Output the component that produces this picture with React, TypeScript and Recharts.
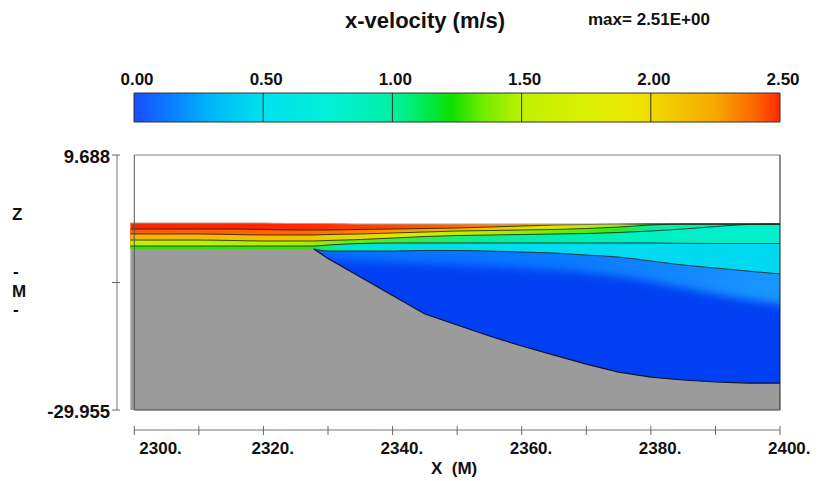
import React from 'react';
import {
  ComposedChart,
  Area,
  Line,
  XAxis,
  YAxis,
  ReferenceLine,
  ReferenceArea,
} from 'recharts';

const FONT = '"Liberation Sans", Arial, Helvetica, sans-serif';

// channel stations (m)
const stations = [
  2299.4, 2305, 2310, 2315, 2320, 2325, 2327.8, 2330, 2335, 2340, 2345,
  2350, 2355, 2360, 2365, 2370, 2375, 2380, 2385, 2390, 2395, 2400,
];

// free surface (m)
const surfaceZ = [
  -0.88, -0.88, -0.88, -0.88, -0.88, -0.96, -0.96, -0.96, -1.04, -1.04, -1.04,
  -1.04, -1.04, -1.04, -1.04, -1.04, -1.04, -1.04, -1.04, -1.04, -1.04, -1.04,
];

// velocity contours, top to bottom (m)
const contour1 = [
  -1.82, -1.82, -1.82, -1.82, -1.89, -1.97, -1.97, -1.97, -1.89, -1.82, -1.74,
  -1.66, -1.51, -1.35, -1.19, -1.12, -1.04, -1.04, -1.04, -1.04, -1.04, -1.04,
];
const contour2 = [
  -2.59, -2.59, -2.59, -2.67, -2.75, -2.75, -2.75, -2.67, -2.59, -2.44, -2.28,
  -2.13, -2.05, -1.97, -1.89, -1.74, -1.51, -1.19, -1.04, -1.04, -1.04, -1.04,
];
const contour3 = [
  -3.53, -3.53, -3.53, -3.6, -3.68, -3.68, -3.68, -3.6, -3.45, -3.22, -2.98,
  -2.83, -2.75, -2.67, -2.59, -2.52, -2.36, -2.13, -1.82, -1.43, -1.12, -1.04,
];
const contour4 = [
  -4.46, -4.46, -4.46, -4.46, -4.46, -4.46, -4.46, -4.3, -4.07, -3.99, -3.99,
  -3.99, -3.99, -3.99, -3.99, -3.99, -3.99, -3.99, -4.04, -4.07, -4.07, -4.07,
];
const contour5 = [
  -4.93, -4.93, -4.93, -4.93, -4.93, -4.93, -4.93, -5.24, -5.24, -5.24, -5.16,
  -5.16, -5.24, -5.39, -5.55, -5.86, -6.17, -6.79, -7.41, -7.88, -8.35, -8.81,
];
// top of the slow core (below the crest it sits inside the weir)
const coreZ = [
  null, null, null, null, null, null, -5.6, -6.4, -6.8, -7.0, -7.2,
  -7.4, -7.6, -7.9, -8.2, -8.6, -9.2, -10.0, -11.0, -12.0, -12.8, -13.5,
];
// spillway / bed profile (m)
const bedZ = [
  -4.93, -4.93, -4.93, -4.93, -4.93, -4.93, -4.93, -6.4, -9.28, -12.14, -15.03,
  -16.74, -18.45, -20.01, -21.41, -22.81, -24.05, -24.83, -25.29, -25.6, -25.76, -25.76,
];

const crestEdge = 2327.8;
const zTop = 9.688;
const zBottom = -29.955;
const zMid = (zTop + zBottom) / 2;
const xAxisMin = 2297.32;
const zAxisMin = -33.06;
const waterBase = -28;

const xTicks = [2300, 2310, 2320, 2330, 2340, 2350, 2360, 2370, 2380, 2390, 2400];
const zTicks = [zTop, zMid, zBottom];
const zTickLabels = ['9.688', '', '-29.955'];

// colour scale
const scaleTicks = [0, 0.5, 1.0, 1.5, 2.0, 2.5];
const scaleMax = 2.5;
const scaleStopValues = [0, 0.15, 0.3, 0.45, 0.5, 0.75, 0.95, 1.05, 1.15, 1.23, 1.35, 1.5, 1.75, 1.95, 2.05, 2.25, 2.4, 2.5];
const scaleStopColors = [
  '#1a4cff', '#0a80ff', '#00b8f8', '#00d8f0', '#00e0ee', '#00f0d8', '#00f0b0', '#00f088', '#00e840',
  '#10e000', '#70ec00', '#c0f000', '#dcf000', '#eee400', '#f2d000', '#f8a800', '#fc6800', '#ff2a00',
];
const scaleRows = [
  { v: 0, h: 1 },
  { v: scaleMax, h: 1 },
];

const onSlope = (x: number) => x >= crestEdge;

const rows = stations.map((x, i) => ({
  x,
  surface: surfaceZ[i],
  c1: contour1[i],
  c2: contour2[i],
  c3: contour3[i],
  c4: contour4[i],
  c5line: onSlope(x) ? contour5[i] : null,
  // filled bands reach down to the bed (hidden parts are painted over)
  b0: [bedZ[i], surfaceZ[i]],
  b1: [bedZ[i], contour1[i]],
  b2: [bedZ[i], contour2[i]],
  b3: [bedZ[i], contour3[i]],
  b4: [bedZ[i], contour4[i]],
  b5: onSlope(x) ? [waterBase, contour5[i]] : null,
  core: coreZ[i] === null ? null : [waterBase, coreZ[i]],
  bed: bedZ[i],
  bedEdge: onSlope(x) ? bedZ[i] : null,
}));

// horizontal fills of each velocity band
const bandFills: [number, string][][] = [
  [[0, '#ff2400'], [0.26, '#ff2800'], [0.42, '#ff4a00'], [0.54, '#ff7800'], [0.66, '#f8a800'], [0.75, '#e8d000'], [1, '#e8d000']],
  [[0, '#ff5c00'], [0.26, '#ff6400'], [0.42, '#ff9a00'], [0.54, '#f6c000'], [0.66, '#d8e800'], [0.75, '#a0f000'], [1, '#60f000']],
  [[0, '#f7b400'], [0.26, '#f2c400'], [0.35, '#ecd800'], [0.42, '#d8ec00'], [0.54, '#b0f000'], [0.66, '#70ec00'], [0.75, '#30e820'], [0.8, '#00f0a0'], [1, '#00f0c0']],
  [[0, '#c4f000'], [0.26, '#a8f000'], [0.33, '#70ec10'], [0.42, '#40ea40'], [0.54, '#10ec90'], [0.66, '#00f0b0'], [0.8, '#00f0c4'], [1, '#00f0d0']],
  [[0, '#38e000'], [0.27, '#38e000'], [0.3, '#20e870'], [0.33, '#00e8c8'], [0.45, '#00e0e8'], [0.7, '#00dcf0'], [1, '#00d8f0']],
  [[0, '#0a70ff'], [0.5, '#0a78ff'], [0.8, '#1488ff'], [1, '#1a98ff']],
];
const bandKeys = ['b0', 'b1', 'b2', 'b3', 'b4', 'b5'];

const XTick = (props: any) => {
  const { x, y, payload } = props;
  const v = payload.value as number;
  const major = v % 20 === 0;
  return (
    <g>
      <line x1={x} x2={x} y1={y - 4} y2={y + 5} stroke="#666" />
      {major && (
        <text x={v === xTicks[0] ? x + 5 : x - 12} y={y + 24} fontSize={17} fontWeight="bold" fontFamily={FONT} fill="#111">
          {`${v}.`}
        </text>
      )}
    </g>
  );
};

const ZTick = (props: any) => {
  const { x, y, index } = props;
  return (
    <g>
      <line x1={x - 5} x2={x + 3} y1={y} y2={y} stroke="#666" />
      <text x={x - 7} y={y + 8} textAnchor="end" fontSize={18.5} fontWeight="bold" fontFamily={FONT} fill="#111">
        {zTickLabels[index]}
      </text>
    </g>
  );
};

const ScaleTick = (props: any) => {
  const { x, y, payload } = props;
  return (
    <text x={x + 3} y={y - 8} textAnchor="middle" fontSize={17} fontWeight="bold" fontFamily={FONT} fill="#111">
      {(payload.value as number).toFixed(2)}
    </text>
  );
};

function ColorBar() {
  return (
    <ComposedChart width={818} height={150} data={scaleRows} margin={{ top: 63, right: 38, bottom: 28, left: 134 }}>
      <defs>
        <linearGradient id="scaleGrad" x1="0" y1="0" x2="1" y2="0">
          {scaleStopValues.map((v, i) => (
            <stop key={i} offset={v / scaleMax} stopColor={scaleStopColors[i]} />
          ))}
        </linearGradient>
      </defs>
      <XAxis
        orientation="top"
        type="number"
        dataKey="v"
        domain={[0, scaleMax]}
        ticks={scaleTicks}
        interval={0}
        height={30}
        axisLine={false}
        tickLine={false}
        tickSize={0}
        tickMargin={0}
        tick={<ScaleTick />}
      />
      <YAxis hide type="number" domain={[0, 1]} />
      <Area
        dataKey="h"
        type="linear"
        baseValue={0}
        fill="url(#scaleGrad)"
        fillOpacity={1}
        stroke="none"
        dot={false}
        activeDot={false}
        isAnimationActive={false}
      />
      <ReferenceArea x1={0} x2={scaleMax} y1={0} y2={1} fill="none" stroke="#333" strokeWidth={1} ifOverflow="visible" />
      {scaleTicks.slice(1, -1).map((v) => (
        <ReferenceLine key={v} x={v} stroke="#333" strokeWidth={1} ifOverflow="visible" />
      ))}
    </ComposedChart>
  );
}

export default function App() {
  return (
    <div style={{ position: 'absolute', left: 0, top: 0, width: 818, height: 481, background: '#fff' }}>
      <style>{`.core-area { filter: url(#coreBlur); }`}</style>
      <div style={{ position: 'absolute', left: 0, top: 0 }}>
        <ComposedChart width={818} height={481} data={rows} margin={{ top: 155, right: 38, bottom: 0, left: 0 }}>
          <defs>
            {bandFills.map((stops, b) => (
              <linearGradient key={b} id={`band${b}`} x1="0" y1="0" x2="1" y2="0">
                {stops.map(([o, c], i) => (
                  <stop key={i} offset={o} stopColor={c} />
                ))}
              </linearGradient>
            ))}
            <linearGradient id="surfStroke" gradientUnits="userSpaceOnUse" x1="130" y1="0" x2="780" y2="0">
              <stop offset="0" stopColor="#b89878" />
              <stop offset="0.75" stopColor="#b0a890" />
              <stop offset="0.8" stopColor="#333" />
              <stop offset="1" stopColor="#222" />
            </linearGradient>
            <filter id="coreBlur" x="-5%" y="-20%" width="110%" height="140%">
              <feGaussianBlur stdDeviation="0 5" />
            </filter>
          </defs>
          <XAxis
            dataKey="x"
            type="number"
            domain={[xAxisMin, 2400]}
            ticks={xTicks}
            interval={0}
            height={51}
            axisLine={false}
            tickLine={false}
            tickSize={0}
            tickMargin={0}
            tick={<XTick />}
            allowDataOverflow
          />
          <YAxis
            type="number"
            domain={[zAxisMin, zTop]}
            ticks={zTicks}
            interval={0}
            width={117}
            axisLine={false}
            tickLine={false}
            tickSize={0}
            tickMargin={0}
            tick={<ZTick />}
            allowDataOverflow
          />

          {bandKeys.map((k, b) => (
            <Area
              key={k}
              dataKey={k}
              type="monotone"
              fill={`url(#band${b})`}
              fillOpacity={1}
              stroke="none"
              dot={false}
              activeDot={false}
              isAnimationActive={false}
            />
          ))}
          <Area
            className="core-area"
            dataKey="core"
            type="monotone"
            fill="#0440f2"
            fillOpacity={1}
            stroke="none"
            dot={false}
            activeDot={false}
            isAnimationActive={false}
          />
          <Area
            dataKey="bed"
            type="linear"
            baseValue={zBottom}
            fill="#9b9b9b"
            fillOpacity={1}
            stroke="none"
            dot={false}
            activeDot={false}
            isAnimationActive={false}
          />

          {['c1', 'c2', 'c3', 'c4', 'c5line'].map((k) => (
            <Line
              key={k}
              dataKey={k}
              type="monotone"
              stroke="#1a1a1a"
              strokeWidth={1}
              strokeOpacity={0.8}
              dot={false}
              activeDot={false}
              isAnimationActive={false}
            />
          ))}
          <Line dataKey="surface" type="monotone" stroke="url(#surfStroke)" strokeWidth={1.2} dot={false} activeDot={false} isAnimationActive={false} />
          <Line dataKey="bedEdge" type="linear" stroke="#111133" strokeWidth={1.2} dot={false} activeDot={false} isAnimationActive={false} />

          {/* plot frame */}
          <ReferenceLine segment={[{ x: 2300, y: zTop }, { x: 2400, y: zTop }]} stroke="#7d7d7d" ifOverflow="visible" />
          <ReferenceLine segment={[{ x: 2300, y: zBottom }, { x: 2300, y: zTop }]} stroke="#555" ifOverflow="visible" />
          <ReferenceLine segment={[{ x: 2400, y: zBottom }, { x: 2400, y: zTop }]} stroke="#1e1e1e" ifOverflow="visible" />
          <ReferenceLine segment={[{ x: 2300, y: zBottom }, { x: 2400, y: zBottom }]} stroke="#444" ifOverflow="visible" />
          {/* detached axes */}
          <ReferenceLine segment={[{ x: xAxisMin, y: zBottom }, { x: xAxisMin, y: zTop }]} stroke="#777" ifOverflow="visible" />
          <ReferenceLine segment={[{ x: 2300, y: zAxisMin }, { x: 2400, y: zAxisMin }]} stroke="#777" ifOverflow="visible" />
        </ComposedChart>
      </div>
      <div style={{ position: 'absolute', left: 0, top: 0 }}>
        <ColorBar />
      </div>
      <svg width={818} height={481} style={{ position: 'absolute', left: 0, top: 0, pointerEvents: 'none' }} fontFamily={FONT} fontWeight="bold" fill="#111">
        <text x={345} y={28} fontSize={22}>x-velocity (m/s)</text>
        <text x={588} y={25} fontSize={17}>max= 2.51E+00</text>
        <text x={12} y={220} fontSize={17}>Z</text>
        <text x={13} y={277} fontSize={17}>-</text>
        <text x={12} y={297} fontSize={17}>M</text>
        <text x={13} y={315} fontSize={17}>-</text>
        <text x={431} y={474} fontSize={17} style={{ whiteSpace: 'pre' }}>X  (M)</text>
      </svg>
    </div>
  );
}
